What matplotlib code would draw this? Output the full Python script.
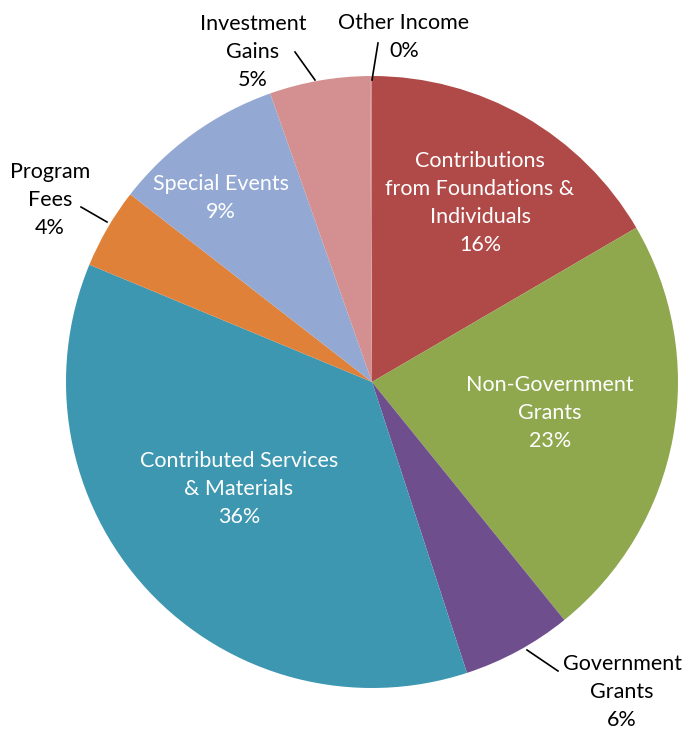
import matplotlib.pyplot as plt

# Revenue sources (percent of total)
categories = ['Contributions\nfrom Foundations &\nIndividuals', 'Non-Government\nGrants',
              'Government\nGrants', 'Contributed Services\n& Materials', 'Program\nFees',
              'Special Events', 'Investment\nGains', 'Other Income']
values = [16.6, 22.6, 5.8, 36.3, 4.25, 9.1, 5.3, 0.1]
shown_pct = ['16%', '23%', '6%', '36%', '4%', '9%', '5%', '0%']
colors = ['#B04A48', '#8FA84E', '#6F4E8E', '#3D97B0', '#E0813A', '#93A9D3', '#D49090', '#D49090']

plt.rcParams['font.family'] = ['Lato', 'DejaVu Sans']

fig = plt.figure(figsize=(6.89, 7.30), dpi=100)
ax = fig.add_axes([0, 0, 1, 1])

H = 730
ax.pie(values, colors=colors, startangle=90, counterclock=False,
       center=(372, H - 382), radius=306, frame=True,
       wedgeprops=dict(linewidth=0))
ax.set_xlim(0, 689)
ax.set_ylim(0, 730)
ax.set_aspect('equal')
ax.axis('off')

# label positions (image pixel coords), text colour, leader line
label_pos = [(480, 203, 'white', None),
             (550, 413, 'white', None),
             (622, 692, 'black', ((527, 650), (558, 671))),
             (239, 489, 'white', None),
             (50, 200, 'black', ((81, 207), (107, 222))),
             (221, 198, 'white', None),
             (253, 52, 'black', ((295, 52), (315, 80))),
             (404, 37, 'black', ((378, 43), (372, 80)))]

for cat, pct, (x, y, c, line) in zip(categories, shown_pct, label_pos):
    ax.text(x, H - y, cat + '\n' + pct, color=c, fontsize=15.5, ha='center', va='center',
            linespacing=1.5)
    if line:
        (x0, y0), (x1, y1) = line
        ax.plot([x0, x1], [H - y0, H - y1], color='black', lw=1.2)

fig.savefig('out.png', dpi=100)
